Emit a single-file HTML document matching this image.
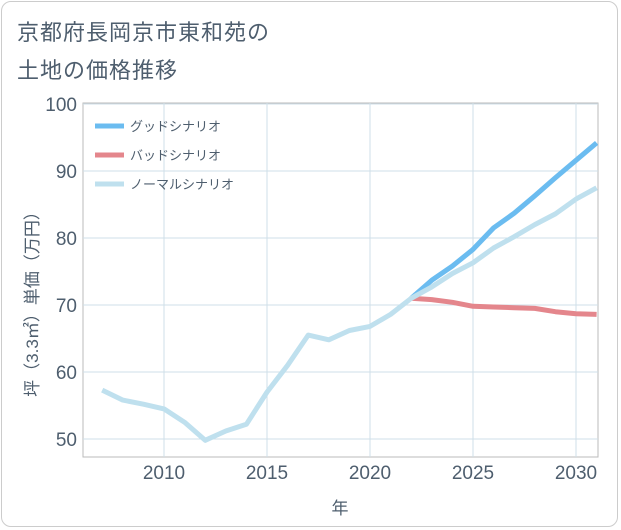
<!DOCTYPE html>
<html><head><meta charset="utf-8"><style>
body{margin:0;background:#fff;font-family:"Liberation Sans","Noto Sans CJK JP",sans-serif;}
#wrap{position:relative;width:621px;height:530px;}
#frame{position:absolute;left:1px;top:1px;width:617px;height:526px;border:1px solid #ccc;border-radius:10px;box-sizing:border-box;}
#title{position:absolute;left:17px;top:14px;font-size:22px;line-height:38px;color:#4e5e6e;letter-spacing:1px;}
svg{position:absolute;left:0;top:0;}
</style></head><body>
<div id="wrap">
<div id="frame"></div>
<div id="title">京都府長岡京市東和苑の<br>土地の価格推移</div>
<svg id="chart" width="621" height="530"></svg>
</div>
<script>
const years=[2007,2008,2009,2010,2011,2012,2013,2014,2015,2016,2017,2018,2019,2020,2021,2022,2023,2024,2025,2026,2027,2028,2029,2030,2031];
const normal=[57.3,55.8,55.2,54.5,52.5,49.8,51.2,52.2,57,61,65.5,64.8,66.2,66.8,68.6,71,72.7,74.7,76.3,78.5,80.2,82,83.6,85.8,87.5];
const futureYears=[2022,2023,2024,2025,2026,2027,2028,2029,2030,2031];
const good=[71,73.7,75.8,78.3,81.5,83.7,86.3,89,91.6,94.2];
const bad=[71,70.8,70.4,69.8,69.7,69.6,69.5,69,68.7,68.6];
const xTicks=[2010,2015,2020,2025,2030];
const yTicks=[50,60,70,80,90,100];
const seriesNames=["グッドシナリオ","バッドシナリオ","ノーマルシナリオ"];
const seriesColors=["#6bbcf0","#e4868c","#bfe0ee"];

const L=83,R=598,T=103,B=457;
const TXT='#4e5e6e';
const x=v=>164+(v-2010)*20.6;
const y=v=>439-(v-50)*6.7;
const svg=document.getElementById('chart');
const NS='http://www.w3.org/2000/svg';
function mk(tag,attrs){const e=document.createElementNS(NS,tag);for(const k in attrs)e.setAttribute(k,attrs[k]);svg.appendChild(e);return e;}
let e=mk('rect',{x:L,y:T,width:R-L,height:B-T,fill:'none',stroke:'#bbb'});


yTicks.forEach(v=>{
 let g=mk('line',{x1:L,x2:R,y1:y(v),y2:y(v),stroke:'#cfdfe8'});
 
 
 let t=mk('text',{x:L-6,y:y(v)+7,'text-anchor':'end','font-size':19,fill:TXT});
 t.textContent=v;
 
 
});
xTicks.forEach(v=>{
 let g=mk('line',{x1:x(v),x2:x(v),y1:T,y2:B,stroke:'#cfdfe8'});
 
 
 let t=mk('text',{x:x(v),y:B+22,'text-anchor':'middle','font-size':19,fill:TXT});
 t.textContent=v;
 
 
});
let xt=mk('text',{x:340,y:514,'text-anchor':'middle','font-size':17,fill:TXT});
xt.textContent='年';


let yt=mk('text',{x:0,y:0,'text-anchor':'middle','font-size':17,fill:TXT,transform:'translate(38,300) rotate(-90)'});
yt.textContent='坪（3.3㎡）単価（万円）';


function path(xs,vs){return xs.map((v,i)=>(i?'L':'M')+x(v).toFixed(1)+','+y(vs[i]).toFixed(1)).join('');}
const defs=document.createElementNS(NS,'defs');
defs.innerHTML='<clipPath id="cp"><rect x="'+L+'" y="'+T+'" width="'+(R-L)+'" height="'+(B-T)+'"/></clipPath>';
svg.appendChild(defs);
let p1=mk('path',{d:path(futureYears,bad),fill:'none',stroke:seriesColors[1],'stroke-width':5,'clip-path':'url(#cp)','stroke-linejoin':'round'});


let p2=mk('path',{d:path(futureYears,good),fill:'none',stroke:seriesColors[0],'stroke-width':5,'clip-path':'url(#cp)','stroke-linejoin':'round'});


let p3=mk('path',{d:path(years,normal),fill:'none',stroke:seriesColors[2],'stroke-width':5,'clip-path':'url(#cp)','stroke-linejoin':'round'});


seriesNames.forEach((n,i)=>{
 let ly=126+i*29;
 let l=mk('line',{x1:95,x2:124,y1:ly,y2:ly,stroke:seriesColors[i],'stroke-width':5});
 
 
 let t=mk('text',{x:130,y:ly+5,'font-size':13,fill:TXT});
 t.textContent=n;
 
 
});
</script>
</body></html>
